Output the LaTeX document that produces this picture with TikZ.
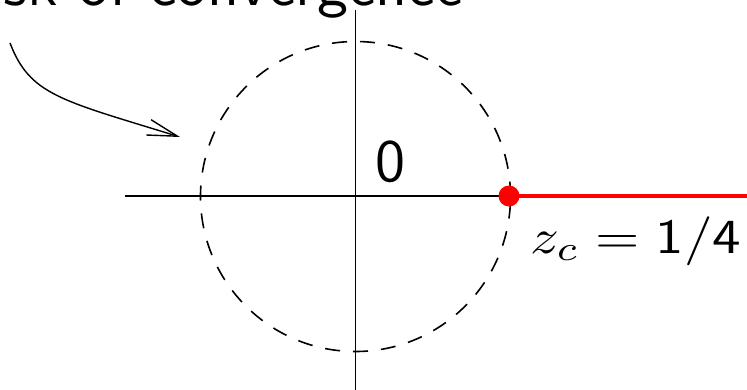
\documentclass[tikz,border=0pt]{standalone}
\usepackage{graphicx}
\usetikzlibrary{arrows.meta}
\tikzset{
  axis/.style={line width=1.8pt},
  diskline/.style={circle, draw, line width=1.6pt, dash pattern=on 15pt off 13pt, minimum size=310pt, inner sep=0pt},
  txt/.style={font=\sffamily, inner sep=0pt},
  pointer/.style={line width=1.4pt, -{Straight Barb[length=30pt,width=16pt,line width=1.4pt]}}
}
\begin{document}
\begin{tikzpicture}[x=1pt,y=-1pt]
\useasboundingbox (0,0) rectangle (747,389);
\clip (0,0) rectangle (747,389);
\coordinate (O) at (355.5,196.5);
\coordinate (xl) at (125,196);
\coordinate (zc) at (509,196);
\coordinate (xr) at (750,196);
\coordinate (yt) at (355.5,10);
\coordinate (yb) at (355.5,392);
\coordinate (as) at (10,43);
\coordinate (ae) at (180,137);
\node[diskline] (disk) at (O) {};
\draw[axis] (xl) -- (zc);
\draw[axis] (yt) -- (yb);
\draw[red, line width=4pt] (zc) -- (xr);
\node[circle, fill=red, minimum size=21pt, inner sep=0pt] (dot) at (zc) {};
\node[txt, anchor=base east] (title) at (463,5) {\scalebox{6.2}{Disk of convergence}};
\node[txt, anchor=base west] (zero) at (375,181) {\scalebox{6}{0}};
\node[txt, anchor=base west] (zlabel) at (530,253) {\scalebox{5.7}[4.9]{$z_c = \mathsf{1/4}$}};
\draw[pointer] (as) .. controls (30,95) and (60,100) .. (ae);
\end{tikzpicture}
\end{document}
